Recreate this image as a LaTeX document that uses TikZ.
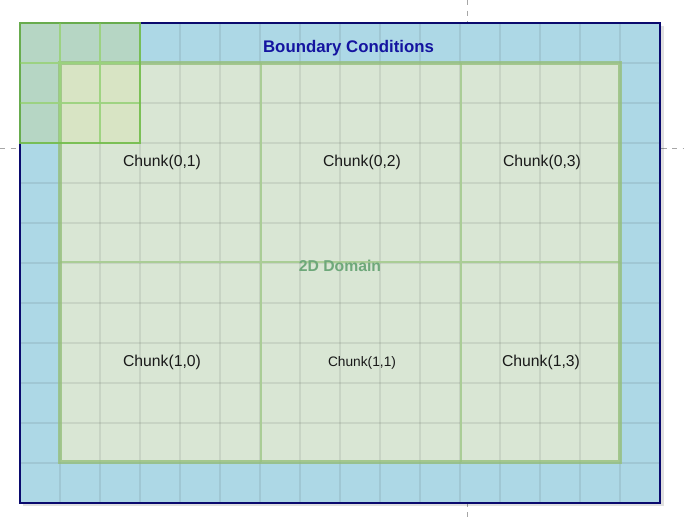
\documentclass[tikz,border=0pt]{standalone}
\usepackage{fontspec}
\setmainfont{Liberation Sans}
\definecolor{bcblue}{RGB}{173,216,230}
\definecolor{bcborder}{RGB}{10,10,110}
\definecolor{domfill}{RGB}{217,230,212}
\definecolor{domborder}{RGB}{150,192,125}
\definecolor{chunkline}{RGB}{170,205,150}
\definecolor{hlout}{RGB}{182,214,196}
\definecolor{hlin}{RGB}{216,228,196}
\definecolor{hlborder}{RGB}{115,190,75}
\definecolor{hlinner}{RGB}{155,212,125}
\definecolor{titleblue}{RGB}{20,20,160}
\definecolor{domtext}{RGB}{110,168,122}
\tikzset{
  gridline/.style={draw=black, draw opacity=0.075, line width=1.5pt},
  guide/.style={draw=black!35, dashed, line width=0.6pt, dash pattern=on 4pt off 4pt},
  chunklabel/.style={font=\fontsize{11.8}{14}\selectfont, text=black!90, inner sep=0pt},
}
\begin{document}
\begin{tikzpicture}[x=0.75pt,y=-0.75pt]
\useasboundingbox (0,0) rectangle (684,522);
% guide lines
\draw[guide] (0,148) -- (684,148);
\draw[guide] (467,0) -- (467,522);
% shadow
\fill[black, opacity=0.12] (23,26) rectangle (664,506);
% outer boundary
\fill[bcblue] (20,23) rectangle (660,503);
% domain
\fill[domfill] (60,63) rectangle (620,462);
% highlight fills
\fill[hlout] (20,23) -- (140,23) -- (140,63) -- (60,63) -- (60,143) -- (20,143) -- cycle;
\fill[hlin] (60,63) rectangle (140,143);
% grid
\foreach \x in {60,100,...,620} \draw[gridline] (\x,23) -- (\x,503);
\foreach \y in {63,103,...,463} \draw[gridline] (20,\y) -- (660,\y);
% chunk dividers
\draw[chunkline, line width=1.3pt] (261,63) -- (261,462);
\draw[chunkline, line width=1.3pt] (461,63) -- (461,462);
\draw[chunkline, line width=1.3pt] (60,262) -- (620,262);
% domain border
\draw[domborder, line width=2.5pt, draw opacity=0.8] (60,63) rectangle (620,462);
% outer border
\draw[bcborder, line width=1.8pt] (20,23) rectangle (660,503);
% highlight inner lines and border
\draw[hlinner, line width=1.5pt, draw opacity=0.9] (60,23) -- (60,143) (100,23) -- (100,143) (20,63) -- (140,63) (20,103) -- (140,103);
\draw[hlborder, line width=1.8pt, draw opacity=0.9] (20,23) rectangle (140,143);
% texts
\node[font=\bfseries\fontsize{12.6}{15}\selectfont, text=titleblue, inner sep=0pt] (bc) at (348.5,48) {Boundary Conditions};
\node[font=\bfseries\fontsize{11.8}{14}\selectfont, text=domtext, inner sep=0pt] (dom) at (340,266) {2D Domain};
\node[chunklabel] (c01) at (162,162.5) {Chunk(0,1)};
\node[chunklabel] (c02) at (362,162.5) {Chunk(0,2)};
\node[chunklabel] (c03) at (542,162.5) {Chunk(0,3)};
\node[chunklabel] (c10) at (162,362.5) {Chunk(1,0)};
\node[chunklabel, font=\fontsize{10.3}{12}\selectfont] (c11) at (362,363) {Chunk(1,1)};
\node[chunklabel] (c13) at (541,362.5) {Chunk(1,3)};
\end{tikzpicture}
\end{document}
